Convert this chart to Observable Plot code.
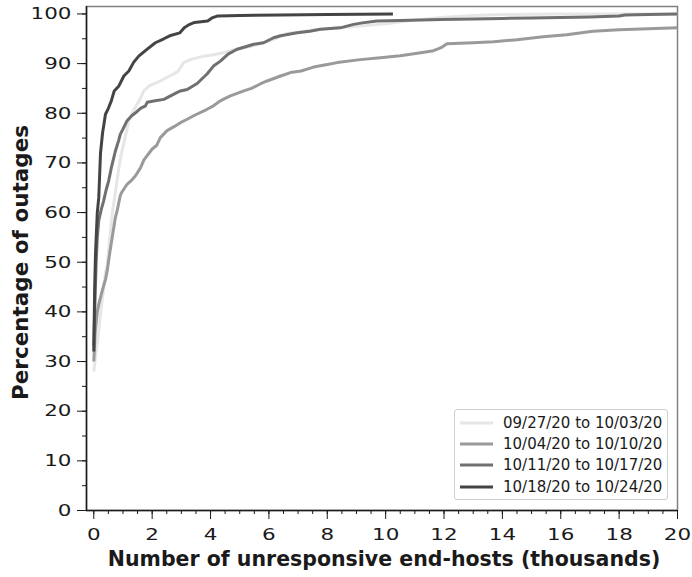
<!DOCTYPE html>
<html>
<head>
<meta charset="utf-8">
<script src="https://cdn.jsdelivr.net/npm/d3@7"></script>
<script src="https://cdn.jsdelivr.net/npm/@observablehq/plot@0.6"></script>
<style>
  html, body { margin: 0; padding: 0; background: #fff; }
  #wrap { position: relative; width: 692px; height: 577px; font-family: "DejaVu Sans", sans-serif; }
  #legend { position: absolute; left: 454px; top: 409px; width: 214px; height: 91px;
            border: 1px solid #d0d0d0; border-radius: 3px; background: rgba(255,255,255,0.85);
            box-sizing: border-box; padding-top: 2px; }
  .row { display: flex; align-items: center; height: 21.4px; }
  .row svg { margin-left: 5px; margin-right: 10px; }
  .row span { font-size: 15px; color: #1a1a1a; white-space: nowrap; }
</style>
</head>
<body>
<div id="wrap"></div>
<script>
const seriesNames = ["09/27/20 to 10/03/20", "10/04/20 to 10/10/20", "10/11/20 to 10/17/20", "10/18/20 to 10/24/20"];
const seriesColors = ["#e6e6e6", "#9a9a9a", "#707070", "#444444"];

const s1x = [0,0.06,0.15,0.23,0.32,0.4,0.46,0.55,0.63,0.75,0.86,0.95,1.05,1.2,1.3,1.45,1.6,1.71,1.9,2.1,2.28,2.5,2.74,2.9,2.97,3.08,3.3,3.77,4.1,4.45,4.8,5.25,5.7,6.2,6.6,7.2,8,9,10,11,11.9,13,14,16,18,20];
const s1y = [28,31,35,39.6,44,48,49.5,55,59.7,64.5,69,72,74.5,78.5,79.8,81.5,83,84.5,85.5,86,86.5,87.2,87.9,88.5,89.2,90.2,90.8,91.5,91.8,92.2,92.8,93.3,94,95,96,96.5,97,97.5,98,98.8,99.3,99.7,99.9,100,100,100];

const s2x = [0,0.05,0.12,0.17,0.29,0.4,0.46,0.55,0.63,0.74,0.8,0.91,0.97,1.14,1.31,1.43,1.6,1.71,1.77,2.0,2.15,2.28,2.51,2.75,2.97,3.2,3.42,3.88,4.1,4.34,4.5,4.68,5.14,5.4,5.7,5.94,6.4,6.74,7.1,7.53,8.0,8.34,9.13,9.82,10.5,11.2,11.64,11.9,12.1,13,13.7,14.5,15.4,16.2,17.1,18,19,20];
const s2y = [30,36,40,41.5,44.3,46.5,48.3,52,55,59,60.4,63.5,64.2,65.7,66.6,67.4,69,70.5,71,72.8,73.5,75.1,76.5,77.3,78.1,78.8,79.5,80.8,81.5,82.5,83,83.5,84.5,85,85.9,86.5,87.5,88.2,88.5,89.3,89.8,90.2,90.8,91.2,91.6,92.2,92.6,93.2,94,94.2,94.4,94.8,95.4,95.8,96.5,96.8,97,97.2];

const s3x = [0,0.04,0.08,0.12,0.17,0.25,0.34,0.42,0.51,0.6,0.74,0.85,0.91,1.0,1.14,1.3,1.43,1.6,1.77,1.83,2.1,2.4,2.63,2.86,2.97,3.2,3.54,3.88,4.1,4.34,4.6,4.91,5.2,5.48,5.82,6.16,6.4,6.97,7.4,7.76,8.45,8.9,9.2,9.7,10.5,11.9,13,14,15,16,17,18,18.2,19,20];
const s3y = [33,42,50,55,58.4,60.5,62.4,64.5,66.4,69,72.4,74.5,75.8,76.8,78.5,79.5,80.1,81,81.5,82.2,82.5,82.8,83.5,84.2,84.5,84.8,86,87.9,89.5,90.5,91.9,92.9,93.4,93.9,94.2,95.2,95.6,96.2,96.5,96.9,97.2,97.9,98.2,98.6,98.7,98.9,99,99.1,99.2,99.3,99.4,99.6,99.8,99.9,100];

const s4x = [0,0.03,0.06,0.09,0.12,0.17,0.23,0.3,0.4,0.5,0.6,0.7,0.86,1.03,1.2,1.37,1.54,1.83,2.11,2.4,2.6,2.95,3.1,3.25,3.45,3.9,4.05,4.25,5,6.4,8,10.25];
const s4y = [32,45,52,56,60,63,72,76,79.8,81,82.5,84.5,85.5,87.5,88.5,90.3,91.5,92.9,94.2,95,95.6,96.2,97.2,97.8,98.3,98.6,99.2,99.6,99.7,99.8,99.9,100];

const xTicks = [0,2,4,6,8,10,12,14,16,18,20];
const yTicks = [0,10,20,30,40,50,60,70,80,90,100];
const xMinor = d3.range(0, 20.001, 0.5);
const yMinor = d3.range(0, 100.001, 5);

const rows = [];
[[s1x,s1y],[s2x,s2y],[s3x,s3y],[s4x,s4y]].forEach(([xs, ys], i) => {
  xs.forEach((x, j) => rows.push({series: seriesNames[i], x, y: ys[j]}));
});

const chart = Plot.plot({
  width: 692, height: 577,
  marginLeft: 86, marginRight: 15, marginTop: 6, marginBottom: 67,
  style: {fontFamily: "DejaVu Sans, sans-serif", fontSize: "16.5px", color: "#1a1a1a", background: "#fff"},
  x: {domain: [-0.25, 20]},
  y: {domain: [0, 101.5]},
  color: {domain: seriesNames, range: seriesColors},
  marks: [
    Plot.frame({stroke: "#808080", strokeWidth: 1.5}),
    Plot.axisX({ticks: xMinor, tickSize: 4, tickFormat: () => "", label: null, stroke: "#1a1a1a"}),
    Plot.axisY({ticks: yMinor, tickSize: 4, tickFormat: () => "", label: null, stroke: "#1a1a1a"}),
    Plot.axisX({ticks: xTicks, tickSize: 9, tickPadding: 9, tickFormat: d => String(d), label: null, fontSize: 16.5, stroke: "#1a1a1a"}),
    Plot.axisY({ticks: yTicks, tickSize: 9, tickPadding: 6, tickFormat: d => String(d), label: null, fontSize: 16.5, stroke: "#1a1a1a"}),
    Plot.line(rows, {x: "x", y: "y", z: "series", stroke: "series", strokeWidth: 3, strokeLinejoin: "round", strokeLinecap: "butt"}),
    Plot.ruleY([0], {stroke: "#1a1a1a", strokeWidth: 1.5}),
    Plot.ruleX([-0.25], {stroke: "#1a1a1a", strokeWidth: 1.5}),
    Plot.text(["Number of unresponsive end-hosts (thousands)"], {frameAnchor: "bottom", lineAnchor: "bottom", textAnchor: "middle", dx: 2, dy: 55, fontWeight: "bold", fontSize: 20.5, fill: "#1a1a1a", ariaLabel: "x-title"}),
    Plot.text(["Percentage of outages"], {frameAnchor: "left", lineAnchor: "middle", textAnchor: "middle", dx: -65, dy: 4, rotate: -90, fontWeight: "bold", fontSize: 21.5, fill: "#1a1a1a"})
  ]
});

const wrap = document.getElementById("wrap");
wrap.appendChild(chart);

// widen tick labels horizontally (about their anchor) to match the reference's glyph proportions
function stretch(sel, sx, anchor) {
  chart.querySelectorAll(sel).forEach(el => {
    if (!el.textContent) return;
    const b = el.getBoundingClientRect();
    const s = chart.getBoundingClientRect();
    const cx = (anchor === "end" ? b.right : (b.left + b.right) / 2) - s.left;
    const g = document.createElementNS("http://www.w3.org/2000/svg", "g");
    g.setAttribute("transform", `translate(${cx},0) scale(${sx},1) translate(${-cx},0)`);
    // place wrapper at the root level so that parent transforms don't interfere
    const parent = el.parentNode;
    const ptf = parent.getAttribute("transform");
    const outer = document.createElementNS("http://www.w3.org/2000/svg", "g");
    outer.appendChild(g);
    parent.parentNode.insertBefore(outer, parent.nextSibling);
    // copy inherited presentation attributes
    for (const a of ["font-size", "font-weight", "font-family", "fill", "text-anchor"]) {
      const v = parent.getAttribute(a);
      if (v && !el.getAttribute(a)) el.setAttribute(a, v);
    }
    const inner = document.createElementNS("http://www.w3.org/2000/svg", "g");
    if (ptf) inner.setAttribute("transform", ptf);
    inner.appendChild(el);
    g.appendChild(inner);
  });
}
stretch('g[aria-label="x-axis tick label"] text', 1.3, "middle");
stretch('g[aria-label="y-axis tick label"] text', 1.3, "end");
stretch('g[aria-label="x-title"] text', 1.06, "middle");

const legend = document.createElement("div");
legend.id = "legend";
seriesNames.forEach((name, i) => {
  const row = document.createElement("div");
  row.className = "row";
  row.innerHTML = `<svg width="33" height="6"><line x1="0" x2="33" y1="3" y2="3" stroke="${seriesColors[i]}" stroke-width="3"/></svg><span>${name}</span>`;
  legend.appendChild(row);
});
wrap.appendChild(legend);
</script>
</body>
</html>
